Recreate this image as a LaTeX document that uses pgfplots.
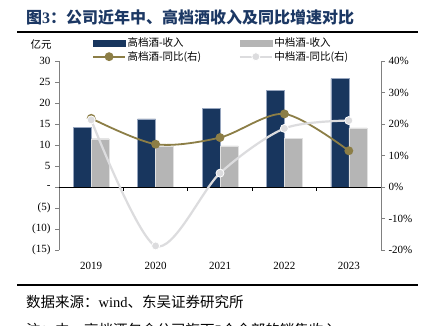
\documentclass[border=0pt]{standalone}
\usepackage{pgfplots}
\pgfplotsset{compat=1.18}
\usepackage{fontspec}
\setmainfont{Liberation Serif}
\newfontfamily\cjk{Noto Sans CJK SC}
\definecolor{dblue}{RGB}{24,54,94}
\definecolor{gbar}{RGB}{181,181,181}
\definecolor{gold}{RGB}{140,126,70}
\definecolor{lgrey}{RGB}{220,220,222}
\definecolor{titleblue}{RGB}{28,56,100}
\definecolor{axgrey}{RGB}{128,128,128}
\pgfplotsset{
  mylinelegend/.style={legend image code/.code={\draw[##1,mark repeat=2,mark phase=2] plot coordinates {(0pt,0pt) (16pt,0pt) (32pt,0pt)};}},
  bluelegend/.style={legend image code/.code={\fill[dblue] (0pt,-3pt) rectangle (32pt,3pt);}},
  greylegend/.style={legend image code/.code={\fill[gbar] (0pt,-3pt) rectangle (32pt,3pt);}},
}
\pgfplotstableread{
x high mid highyoy midyoy
0 14.2 11.5 21.8 21.3
1 16.2 9.7 13.6 -18.7
2 18.8 9.8 15.7 4.4
3 23.0 11.6 23.2 18.6
4 25.8 14.1 11.5 21.1
}\datatable
\begin{document}
\begin{tikzpicture}
\useasboundingbox[fill=white] (0,0) rectangle (430pt,325pt);
\clip (0,0) rectangle (430pt,325pt);
\node[anchor=west, text=titleblue, font=\cjk\bfseries\fontsize{16}{18}\selectfont, inner sep=0pt] at (26pt,308pt) {图{\rmfamily\bfseries 3}：公司近年中、高档酒收入及同比增速对比};
\draw[line width=1.6pt] (17pt,293pt) -- (418pt,293pt);
\node[font=\cjk\fontsize{10.5}{12}\selectfont, inner sep=0pt] at (41pt,280pt) {亿元};
\draw[line width=1.2pt] (17pt,40pt) -- (418pt,40pt);
\node[anchor=west, font=\fontsize{14.5}{16}\selectfont, inner sep=0pt] at (26pt,23pt) {{\cjk 数据来源：}wind{\cjk 、东吴证券研究所}};
\node[anchor=west, font=\fontsize{14.5}{16}\selectfont, inner sep=0pt] at (26pt,-5pt) {{\cjk 注：中、高档酒包含公司旗下}5{\cjk 个全部的销售收入}};
\begin{axis}[
  at={(59pt,75pt)}, anchor=south west, scale only axis, width=322pt, height=189pt,
  xmin=-0.5, xmax=4.5, ymin=-15, ymax=30,
  ybar=0pt, bar width=18pt,
  axis y line*=left, axis x line*=bottom,
  x axis line style={draw=none},
  y axis line style={-, draw=axgrey, line width=1pt},
  xtick={0,1,2,3,4}, xticklabels={2019,2020,2021,2022,2023},
  x tick style={draw=none},
  ytick={-15,-10,-5,0,5,10,15,20,25,30},
  yticklabels={(15),(10),(5),-,5,10,15,20,25,30},
  y tick style={draw=axgrey, line width=0.8pt},
  major tick length=4pt, tick align=outside,
  tick label style={font=\fontsize{11}{13}\selectfont},
  xticklabel style={yshift=-5pt},
  yticklabel style={xshift=-1pt},
  clip=false,
]
\addplot[fill=dblue, draw={rgb,255:red,150;green,165;blue,190}, line width=0.4pt] table[x=x,y=high] {\datatable};
\addplot[fill=gbar, draw={rgb,255:red,225;green,225;blue,225}, line width=0.4pt] table[x=x,y=mid] {\datatable};
\draw[black, line width=0.8pt] (axis cs:-0.5,0) -- (axis cs:4.5,0);
\draw[black, line width=0.8pt] (axis cs:0.5,0) -- ++(0pt,-4pt);
\draw[black, line width=0.8pt] (axis cs:1.5,0) -- ++(0pt,-4pt);
\draw[black, line width=0.8pt] (axis cs:2.5,0) -- ++(0pt,-4pt);
\draw[black, line width=0.8pt] (axis cs:3.5,0) -- ++(0pt,-4pt);
\end{axis}
\begin{axis}[
  at={(59pt,75pt)}, anchor=south west, scale only axis, width=322pt, height=189pt,
  xmin=-0.5, xmax=4.5, ymin=-20, ymax=40,
  axis y line*=right, axis x line=none,
  y axis line style={-, draw=axgrey, line width=1pt},
  ytick={-20,-10,0,10,20,30,40},
  yticklabels={-20\%,-10\%,0\%,10\%,20\%,30\%,40\%},
  y tick style={draw=axgrey, line width=0.8pt},
  major tick length=4pt, tick align=outside,
  tick label style={font=\fontsize{11}{13}\selectfont},
  clip=false,
  legend columns=2,
  legend cell align=left,
  legend style={at={(0.1025,1.13)}, anchor=north west, draw=none, fill=none, inner sep=0pt,
    font=\cjk\fontsize{10.5}{12}\selectfont,
    nodes={inner xsep=1.5pt, inner ysep=1.5pt},
    /tikz/every even column/.append style={column sep=36pt}},
]
\addlegendimage{bluelegend}
\addlegendentry{高档酒-收入}
\addlegendimage{greylegend}
\addlegendentry{中档酒-收入}
\addplot[gold, line width=1.8pt, smooth, mark=*, mark size=3.5pt, mark options={fill=gold, draw=gold}, mylinelegend]
  table[x=x,y=highyoy] {\datatable};
\addlegendentry{高档酒-同比(右)}
\addplot[lgrey, line width=2.2pt, smooth, mark=*, mark size=4pt, mark options={fill=lgrey, draw=white, line width=0.8pt}, mylinelegend]
  table[x=x,y=midyoy] {\datatable};
\addlegendentry{中档酒-同比(右)}
\end{axis}
\end{tikzpicture}
\end{document}
